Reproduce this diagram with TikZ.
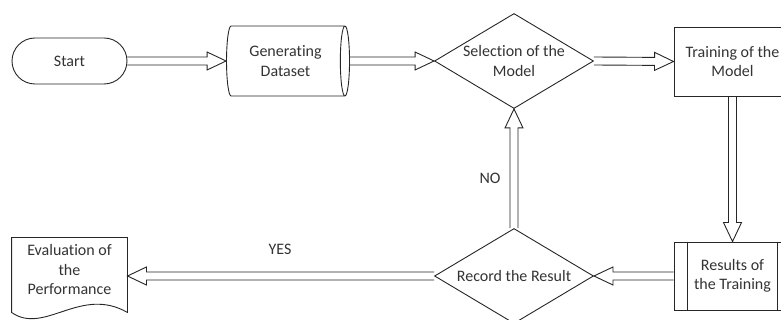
\documentclass[tikz,border=0pt]{standalone}
\usepackage{fontspec}
\setmainfont[Ligatures=NoCommon]{Carlito}
\usetikzlibrary{shapes.geometric,calc}
\tikzset{
  every node/.style={font=\fontsize{16}{19.5}\selectfont, text=black!80},
  terminal/.style={draw, rounded corners=23pt, minimum width=115pt, minimum height=46pt},
  storage/.style={cylinder, draw, aspect=0.3, minimum height=123pt, minimum width=70pt, inner sep=0pt, align=center},
  decision/.style={diamond, draw, minimum width=159pt, minimum height=95pt, inner sep=0pt},
  box/.style={draw, minimum width=117pt, minimum height=69pt, inner sep=0pt, align=center},
  docbox/.style={minimum width=115pt, minimum height=64pt, inner sep=0pt, align=center},
  arrowbody/.style={line width=0.9pt, line join=miter}
}
\newcommand{\hollowarrow}[2]{%
  \coordinate (hb) at ($(#2)!19pt!(#1)$);
  \draw[arrowbody] ($(#1)!4pt!90:(#2)$) -- ($(hb)!4pt!-90:(#1)$) -- ($(hb)!9pt!-90:(#1)$) -- (#2)
    -- ($(hb)!9pt!90:(#1)$) -- ($(hb)!4pt!90:(#1)$) -- ($(#1)!4pt!-90:(#2)$);
}
\begin{document}
\begin{tikzpicture}[x=1pt, y=-1pt, line width=0.9pt, draw=black!85]
\useasboundingbox (0,0) rectangle (781,320);
% Shapes
    \node[terminal] (start) at (69.5,61) {Start};
    \node[storage] (data) at (285.5,61) {Generating\\Dataset};
    \node[decision, label={[align=center]center:Selection of the\\Model}] (select) at (514,61) {};
    \node[box] (train) at (732.5,61.5) {Training of the\\Model};
    \node[box, minimum height=68pt] (result) at (732.5,276) {Results of\\the Training};
    \draw ([xshift=14pt]result.north west) -- ([xshift=14pt]result.south west);
    \draw ([xshift=-14pt]result.north east) -- ([xshift=-14pt]result.south east);
    \node[decision, label={center:Record the Result}] (record) at (514,276) {};
    \node[docbox] (eval) at (69.5,270) {Evaluation of\\the\\Performance};
    \draw (eval.south west) -- (eval.north west) -- (eval.north east) -- ($(eval.south east)+(0,10)$)
        .. controls +(-47,-27) and +(33,23) .. ($(eval.south west)+(0,10)$) -- cycle;
% Arrows
    \hollowarrow{start.east}{data.west}
    \hollowarrow{data.east}{select.west}
    \hollowarrow{select.east}{train.west}
    \hollowarrow{train.south}{result.north}
    \hollowarrow{result.west}{record.east}
    \hollowarrow{record.north}{select.south}
    \coordinate (evalin) at (record.west -| eval.east);
    \hollowarrow{record.west}{evalin}
% Labels
    \node (no) at (490,178) {NO};
    \node (yes) at (280,249) {YES};
\end{tikzpicture}
\end{document}
